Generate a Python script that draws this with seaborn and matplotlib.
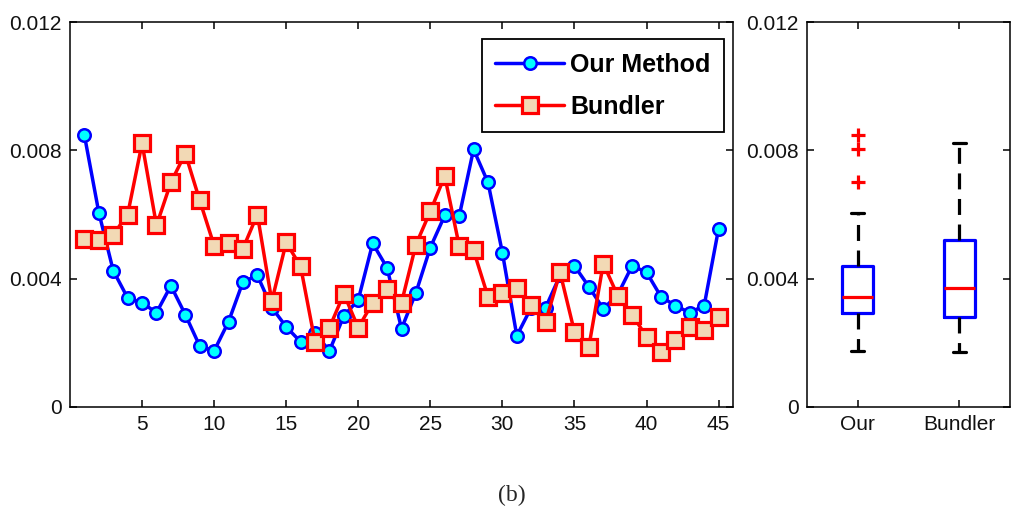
import matplotlib
matplotlib.use("Agg")
import matplotlib.pyplot as plt
import seaborn as sns
import numpy as np
import pandas as pd

frames = list(range(1, 46))
our_method = [0.00847, 0.00606, 0.00425, 0.00340, 0.00325, 0.00294, 0.00378, 0.00288, 0.00190, 0.00175,
              0.00266, 0.00390, 0.00410, 0.00310, 0.00250, 0.00203, 0.00230, 0.00175, 0.00284, 0.00334,
              0.00510, 0.00434, 0.00244, 0.00356, 0.00497, 0.00597, 0.00594, 0.00803, 0.00700, 0.00481,
              0.00222, 0.00310, 0.00310, 0.00410, 0.00440, 0.00375, 0.00306, 0.00350, 0.00440, 0.00420,
              0.00344, 0.00316, 0.00294, 0.00316, 0.00556]
bundler = [0.00525, 0.00522, 0.00537, 0.00600, 0.00822, 0.00566, 0.00700, 0.00790, 0.00644, 0.00503,
           0.00510, 0.00494, 0.00600, 0.00330, 0.00513, 0.00438, 0.00203, 0.00247, 0.00353, 0.00247,
           0.00325, 0.00369, 0.00325, 0.00506, 0.00610, 0.00720, 0.00503, 0.00488, 0.00344, 0.00356,
           0.00372, 0.00319, 0.00266, 0.00420, 0.00234, 0.00188, 0.00447, 0.00347, 0.00288, 0.00219,
           0.00172, 0.00210, 0.00250, 0.00240, 0.00281]
series_names = ["Our Method", "Bundler"]
box_labels = ["Our", "Bundler"]
x_ticks = [5, 10, 15, 20, 25, 30, 35, 40, 45]
y_ticks = [0, 0.004, 0.008, 0.012]
y_tick_labels = ["0", "0.004", "0.008", "0.012"]
caption = "(b)"

sns.set_style("ticks")
plt.rcParams["font.family"] = ["Liberation Sans", "DejaVu Sans"]

fig = plt.figure(figsize=(10.11, 5.13), dpi=100)
ax1 = fig.add_axes([70/1011, 106/513, (733-70)/1011, (407-22)/513])
ax2 = fig.add_axes([807/1011, 106/513, (1010-807)/1011, (407-22)/513])

df = pd.DataFrame({"frame": frames, "our": our_method, "bundler": bundler})

sns.lineplot(data=df, x="frame", y="our", ax=ax1, color="#0000FF", linewidth=2.5,
             marker="o", markersize=9, markerfacecolor="#00FFFF", markeredgecolor="#0000FF",
             markeredgewidth=1.8, label=series_names[0], legend=False)
sns.lineplot(data=df, x="frame", y="bundler", ax=ax1, color="#FF0000", linewidth=2.5,
             marker="s", markersize=11, markerfacecolor="#F2D9B5", markeredgecolor="#FF0000",
             markeredgewidth=2.3, label=series_names[1], legend=False)

ax1.set_xlim(0, 46)
ax1.set_ylim(0, 0.012)
ax1.set_xticks(x_ticks)
ax1.set_xticklabels([str(t) for t in x_ticks])
ax1.set_yticks(y_ticks)
ax1.set_yticklabels(y_tick_labels)
ax1.set_xlabel("")
ax1.set_ylabel("")
leg = ax1.legend(loc="upper right", bbox_to_anchor=(0.987, 0.955), frameon=True, fancybox=False,
                 edgecolor="black", framealpha=1, prop={"weight": "bold", "size": 18},
                 handlelength=2.75, handletextpad=0.25, borderpad=0.55, labelspacing=0.7,
                 borderaxespad=0)
leg.get_frame().set_linewidth(1.3)
for t in leg.get_texts():
    t.set_color("black")

long = pd.DataFrame({"method": [box_labels[0]] * len(our_method) + [box_labels[1]] * len(bundler),
                     "value": our_method + bundler})
sns.boxplot(data=long, x="method", y="value", ax=ax2, width=0.31, fill=False, whis=1.5,
            order=box_labels, capwidths=0.13,
            boxprops=dict(color="#0000FF", linewidth=2.3),
            medianprops=dict(color="#FF0000", linewidth=2.3),
            whiskerprops=dict(color="black", linewidth=2.3, linestyle=(0, (5, 3))),
            capprops=dict(color="black", linewidth=2.3),
            flierprops=dict(marker="+", markeredgecolor="#FF0000", markersize=10, markeredgewidth=2.3))
ax2.set_xlim(-0.5, 1.5)
ax2.set_ylim(0, 0.012)
ax2.set_yticks(y_ticks)
ax2.set_yticklabels(y_tick_labels)
ax2.set_xlabel("")
ax2.set_ylabel("")

for ax in (ax1, ax2):
    for s in ax.spines.values():
        s.set_visible(True)
        s.set_color("black")
        s.set_linewidth(1.1)
    ax.tick_params(direction="in", length=5, width=1.1, top=True, right=True,
                   labelsize=15, colors="black", labelcolor="#111111", pad=6)
    ax.set_facecolor("white")

fig.text(512/1011, 1 - 495/513, caption, ha="center", va="center",
         family=["Liberation Serif", "DejaVu Serif"], fontsize=17)

fig.savefig("out.png", dpi=100)
